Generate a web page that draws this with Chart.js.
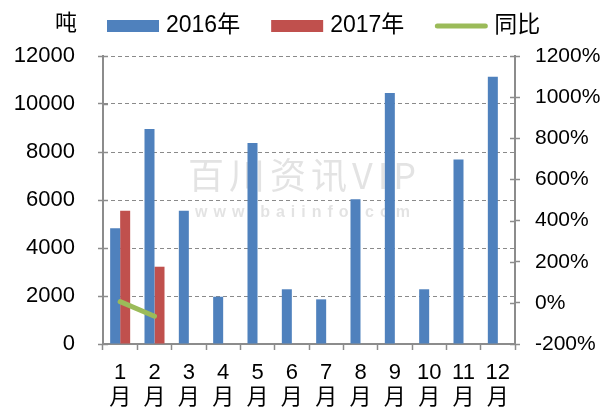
<!DOCTYPE html>
<html lang="zh-CN">
<head>
<meta charset="UTF-8">
<title>2016-2017 月度对比</title>
<script src="https://cdn.jsdelivr.net/npm/chart.js"></script>
<style>
  body { margin: 0; background: #fff; }
  .wrap { width: 611px; height: 412px; position: relative; }
</style>
</head>
<body>
<div class="wrap"><canvas id="grafico"></canvas></div>
<script>
// categorias e séries
const months = ['1', '2', '3', '4', '5', '6', '7', '8', '9', '10', '11', '12'];
const values2016 = [4820, 8960, 5550, 1970, 8380, 2280, 1860, 6030, 10460, 2280, 7690, 11140];
const values2017 = [5550, 3220, null, null, null, null, null, null, null, null, null, null];
const yoy = [6, -65, null, null, null, null, null, null, null, null, null, null];
const seriesNames = ['2016年', '2017年', '同比'];
const unitLabel = '吨';

const FONT = "'Liberation Sans', 'Noto Sans CJK SC', sans-serif";
const AXIS_GREY = '#8c8c8c';

Chart.defaults.font.family = FONT;
Chart.defaults.color = '#000';

// marcas curtas para dentro dos eixos y (o Chart.js só desenha para fora)
const innerTicks = {
  id: 'innerTicks',
  afterDatasetsDraw(chart) {
    const ctx = chart.ctx;
    ctx.save();
    ctx.strokeStyle = AXIS_GREY;
    ctx.lineWidth = 1.5;
    ['y', 'y1'].forEach(function (id) {
      const s = chart.scales[id];
      const x0 = id === 'y' ? chart.chartArea.left : chart.chartArea.right;
      const dir = id === 'y' ? 1 : -1;
      s.ticks.forEach(function (t) {
        const y = Math.round(s.getPixelForValue(t.value)) + 0.5;
        ctx.beginPath();
        ctx.moveTo(x0, y);
        ctx.lineTo(x0 + dir * 5, y);
        ctx.stroke();
      });
    });
    ctx.restore();
  }
};

// marca d'água
const watermark = {
  id: 'watermark',
  beforeDatasetsDraw(chart) {
    const ctx = chart.ctx;
    ctx.save();
    ctx.textBaseline = 'middle';
    ctx.textAlign = 'left';
    ctx.fillStyle = 'rgba(185,185,185,0.4)';
    ctx.font = "36px 'Noto Sans CJK SC'";
    ctx.letterSpacing = '5px';
    ctx.fillText('百川资讯VIP', 188, 175);
    ctx.font = "bold 16px 'Liberation Sans'";
    ctx.letterSpacing = '6px';
    ctx.fillText('www.baiinfo.com', 195, 213);
    ctx.restore();
  }
};

// legenda desenhada à mão + unidade "吨"
const topLegend = {
  id: 'topLegend',
  afterDraw(chart) {
    const ctx = chart.ctx;
    const cy = 26;
    ctx.save();
    ctx.textBaseline = 'middle';
    ctx.textAlign = 'left';
    ctx.fillStyle = '#000';
    ctx.font = '22px ' + FONT;
    ctx.fillText(unitLabel, 55, cy - 2);

    ctx.font = '23px ' + FONT;
    let x = 107;
    chart.data.datasets.forEach(function (ds) {
      if (ds.type === 'line') {
        ctx.strokeStyle = ds.borderColor;
        ctx.lineWidth = 5;
        ctx.lineCap = 'round';
        ctx.beginPath();
        ctx.moveTo(x + 2, cy);
        ctx.lineTo(x + 50, cy);
        ctx.stroke();
      } else {
        ctx.fillStyle = ds.backgroundColor;
        ctx.fillRect(x, cy - 6, 52, 12);
      }
      x += 52 + 7;
      ctx.fillStyle = '#000';
      ctx.fillText(ds.label, x, cy);
      x += ctx.measureText(ds.label).width + 31;
    });
    ctx.restore();
  }
};

new Chart(document.getElementById('grafico'), {
  type: 'bar',
  data: {
    labels: months.map(function (m) { return [m, '月']; }),
    datasets: [
      {
        label: seriesNames[0],
        data: values2016,
        backgroundColor: '#4f81bd',
        yAxisID: 'y',
        categoryPercentage: 0.583,
        barPercentage: 1.0
      },
      {
        label: seriesNames[1],
        data: values2017,
        backgroundColor: '#c0504d',
        yAxisID: 'y',
        categoryPercentage: 0.583,
        barPercentage: 1.0
      },
      {
        type: 'line',
        label: seriesNames[2],
        data: yoy,
        borderColor: '#9bbb59',
        backgroundColor: '#9bbb59',
        borderWidth: 5,
        borderCapStyle: 'round',
        pointRadius: 0,
        tension: 0,
        yAxisID: 'y1',
        order: -1
      }
    ]
  },
  options: {
    responsive: true,
    maintainAspectRatio: false,
    animation: false,
    layout: { padding: { top: 56, left: 0, right: 0, bottom: 0 } },
    plugins: {
      legend: { display: false },
      tooltip: { enabled: false }
    },
    scales: {
      x: {
        grid: { display: true, drawOnChartArea: false, drawTicks: true, tickLength: 6, tickColor: AXIS_GREY, tickWidth: 1.5, offset: true },
        border: { color: AXIS_GREY, width: 2 },
        ticks: { font: { size: 22, lineHeight: 1.15 }, padding: 10, maxRotation: 0, autoSkip: false },
        afterFit: function (s) { s.height = 68; }
      },
      y: {
        position: 'left',
        min: 0,
        max: 12000,
        ticks: { stepSize: 2000, padding: 23, font: { size: 22 }, callback: function (v) { return String(v); } },
        grid: { color: '#8a8a8a', lineWidth: 1, drawTicks: true, tickLength: 5, tickColor: AXIS_GREY, tickWidth: 1.5 },
        border: { color: AXIS_GREY, width: 2, dash: [4, 3] },
        afterFit: function (s) { s.width = 103; }
      },
      y1: {
        position: 'right',
        min: -200,
        max: 1200,
        ticks: { stepSize: 200, padding: 15, font: { size: 21 }, callback: function (v) { return v + '%'; } },
        grid: { drawOnChartArea: false, drawTicks: true, tickLength: 5, tickColor: AXIS_GREY, tickWidth: 1.5 },
        border: { color: AXIS_GREY, width: 2 },
        afterFit: function (s) { s.width = 96; }
      }
    }
  },
  plugins: [watermark, innerTicks, topLegend]
});
</script>
</body>
</html>
